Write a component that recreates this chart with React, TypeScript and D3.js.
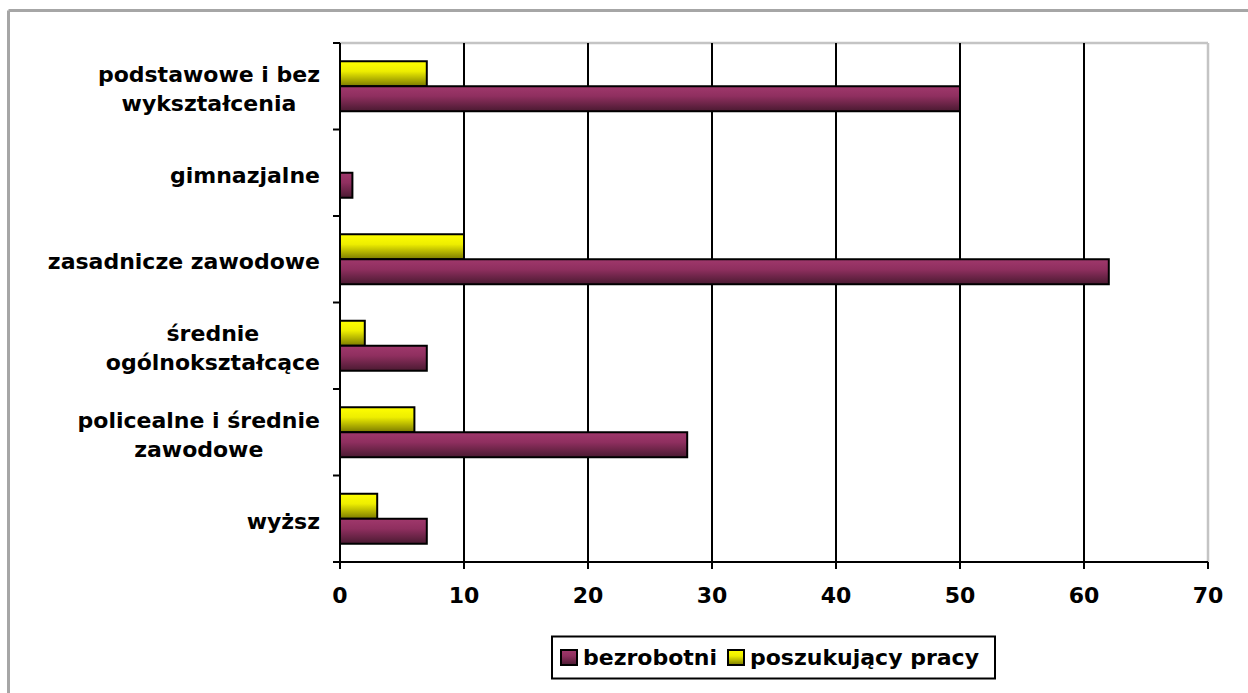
import React from "react";
import * as d3 from "d3";

const categories: string[][] = [
  ["podstawowe i bez", "wykształcenia"],
  ["gimnazjalne"],
  ["zasadnicze zawodowe"],
  ["średnie", "ogólnokształcące"],
  ["policealne i średnie", "zawodowe"],
  ["wyższ"],
];
const bezrobotni = [50, 1, 62, 7, 28, 7];
const poszukujacy = [7, 0, 10, 2, 6, 3];
const xTicks = [0, 10, 20, 30, 40, 50, 60, 70];
const seriesNames = ["bezrobotni", "poszukujący pracy"];

const W = 1248;
const H = 693;
const FONT = "'DejaVu Sans', Verdana, sans-serif";

let ctx: CanvasRenderingContext2D | null = null;
function measure(s: string): number {
  if (!ctx) {
    const c = document.createElement("canvas");
    ctx = c.getContext("2d");
  }
  if (!ctx) return s.length * 13.6;
  ctx.font = "bold 22px 'DejaVu Sans'";
  return ctx.measureText(s).width;
}

export default function App() {
  const left = 340, right = 1208, top = 43, bottom = 562;
  const x = d3.scaleLinear().domain([0, 70]).range([left, right]);
  const ids = categories.map((_, i) => String(i));
  const y = d3.scaleBand<string>().domain(ids).range([top, bottom]).paddingInner(0.422).paddingOuter(0.211);
  const sub = d3.scaleBand<string>().domain(["p", "b"]).range([0, y.bandwidth()]);
  const step = (bottom - top) / categories.length;
  const catTicks = d3.range(categories.length + 1).map((i) => top + i * step);

  return (
    <svg width={W} height={H} style={{ position: "absolute", left: 0, top: 0, background: "#fff" }} fontFamily={FONT}>
      <defs>
        <linearGradient id="gP" x1="0" y1="0" x2="0" y2="1">
          <stop offset="0" stopColor="#a0386c" />
          <stop offset="0.4" stopColor="#8f2f5f" />
          <stop offset="1" stopColor="#4a1a31" />
        </linearGradient>
        <linearGradient id="gY" x1="0" y1="0" x2="0" y2="1">
          <stop offset="0" stopColor="#ffff00" />
          <stop offset="0.4" stopColor="#eeee00" />
          <stop offset="1" stopColor="#7a7a00" />
        </linearGradient>
      </defs>
      <rect x={0} y={0} width={W} height={H} fill="#fff" />
      <line x1={8.5} y1={10.5} x2={W + 5} y2={10.5} stroke="#a6a6a6" strokeWidth={3} />
      <line x1={8.5} y1={10.5} x2={8.5} y2={H + 5} stroke="#a6a6a6" strokeWidth={3} />

      <line x1={left} y1={top} x2={right} y2={top} stroke="#c4c4c4" strokeWidth={2.5} />
      <line x1={right} y1={top} x2={right} y2={bottom} stroke="#c4c4c4" strokeWidth={2.5} />

      {xTicks.slice(1, -1).map((t) => (
        <line key={t} x1={x(t)} x2={x(t)} y1={top} y2={bottom} stroke="#000" strokeWidth={2} />
      ))}

      {categories.map((_, i) => {
        const y0 = y(String(i))!;
        return (
          <g key={i}>
            {poszukujacy[i] > 0 && (
              <rect x={x(0)} y={y0 + sub("p")!} width={x(poszukujacy[i]) - x(0)} height={sub.bandwidth()} fill="url(#gY)" stroke="#000" strokeWidth={2} />
            )}
            {bezrobotni[i] > 0 && (
              <rect x={x(0)} y={y0 + sub("b")!} width={x(bezrobotni[i]) - x(0)} height={sub.bandwidth()} fill="url(#gP)" stroke="#000" strokeWidth={2} />
            )}
          </g>
        );
      })}

      <line x1={left} x2={left} y1={top} y2={bottom + 1} stroke="#000" strokeWidth={2} />
      <line x1={left - 6} x2={right} y1={bottom} y2={bottom} stroke="#000" strokeWidth={2} />
      {catTicks.map((t, i) => (
        <line key={i} x1={left - 7} x2={left} y1={t} y2={t} stroke="#000" strokeWidth={2} />
      ))}
      {xTicks.map((t) => (
        <g key={t}>
          <line x1={x(t)} x2={x(t)} y1={bottom} y2={bottom + 7} stroke="#000" strokeWidth={2} />
          <text x={x(t)} y={603} textAnchor="middle" fontSize={22} fontWeight="bold" fill="#000">{t}</text>
        </g>
      ))}

      {categories.map((lines, i) => {
        const cy = y(String(i))! + y.bandwidth() / 2;
        const maxW = Math.max(...lines.map(measure));
        const cx = 320 - maxW / 2;
        return (
          <text key={i} fontSize={22} fontWeight="bold" fill="#000" textAnchor="middle">
            {lines.map((l, j) => (
              <tspan key={j} x={cx} y={cy + 10 + (j - (lines.length - 1) / 2) * 29}>{l}</tspan>
            ))}
          </text>
        );
      })}

      <rect x={552} y={636.5} width={443} height={42} fill="#fff" stroke="#000" strokeWidth={2} />
      <rect x={561} y={650} width={16} height={15} fill="url(#gP)" stroke="#000" strokeWidth={2} />
      <text x={583} y={665} fontSize={22} fontWeight="bold" fill="#000">{seriesNames[0]}</text>
      <rect x={728} y={650} width={16} height={15} fill="url(#gY)" stroke="#000" strokeWidth={2} />
      <text x={750} y={665} fontSize={22} fontWeight="bold" fill="#000">{seriesNames[1]}</text>
    </svg>
  );
}
